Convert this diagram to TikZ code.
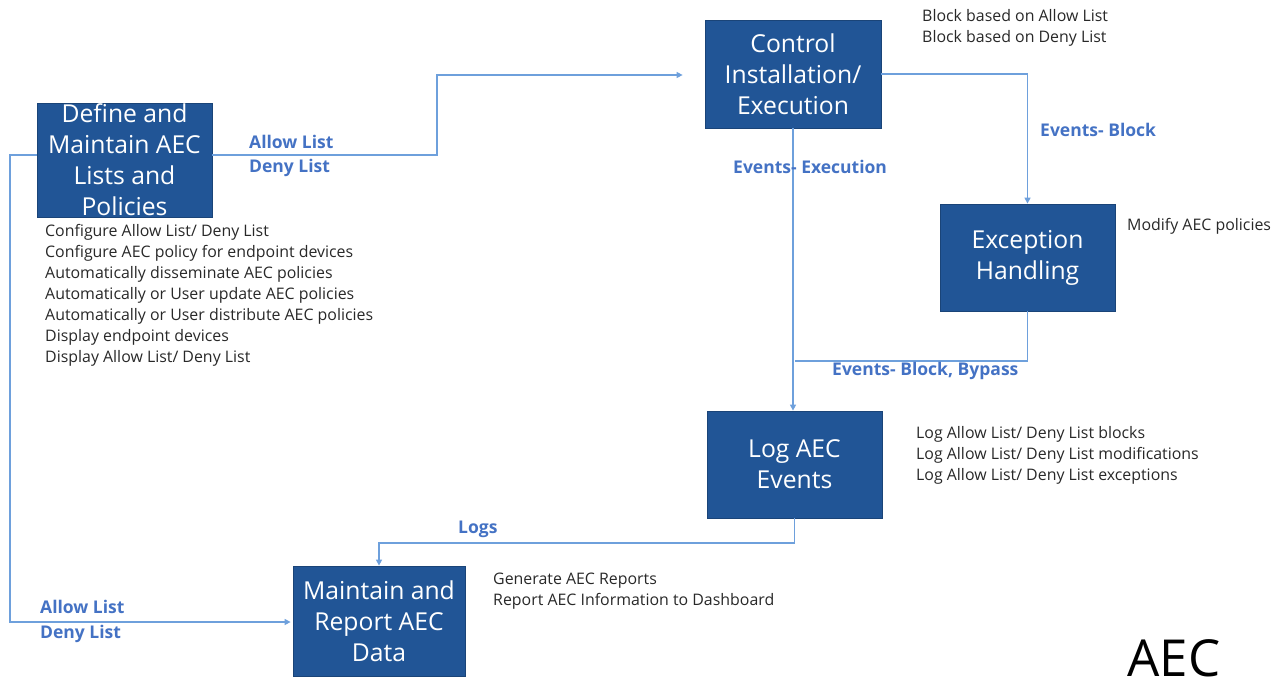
\documentclass[tikz,border=0pt]{standalone}
\usepackage{fontspec}
\setmainfont{Open Sans}
\usetikzlibrary{arrows.meta}
\definecolor{boxblue}{RGB}{33,85,150}
\definecolor{linkblue}{RGB}{110,160,220}
\definecolor{lblblue}{RGB}{68,114,196}
\definecolor{notegray}{RGB}{40,40,40}
\tikzset{
  procbox/.style={draw=boxblue!80!black, line width=0.8pt, fill=boxblue, text=white,
    align=center, inner sep=0pt,
    font=\fontsize{24.7}{31}\selectfont},
  link/.style={draw=linkblue, line width=1.4pt},
  tipped/.style={link, -{Triangle[length=6pt,width=6pt]}},
  flowlbl/.style={text=lblblue, font=\fontsize{17.5}{24.5}\selectfont\bfseries, align=left, inner sep=0pt},
  note/.style={text=notegray, font=\fontsize{15.9}{21}\selectfont, align=left, inner sep=0pt}
}
\begin{document}
\begin{tikzpicture}[x=1pt,y=-1pt]
\useasboundingbox (0,0) rectangle (1281,684);

% process boxes
\node[procbox, minimum width=175pt, minimum height=114pt] (def) at (124.5,160)
  {Define and\\Maintain AEC\\Lists and\\Policies};
\node[procbox, minimum width=176pt, minimum height=108pt] (ctl) at (793,74)
  {Control\\Installation/\\Execution};
\node[procbox, minimum width=175pt, minimum height=107pt] (exc) at (1027.5,257.5)
  {Exception\\Handling};
\node[procbox, minimum width=175pt, minimum height=107pt] (log) at (794.5,464.5)
  {Log AEC\\Events};
\node[procbox, minimum width=172pt, minimum height=110pt] (mnt) at (379,621)
  {Maintain and\\Report AEC\\Data};

% bend points
\coordinate (up) at (437,75);
\coordinate (lft) at (10,622);
\coordinate (join) at (795,361);
\coordinate (lowturn) at (795,543);

% connectors
\draw[tipped, shorten >=22pt] ([yshift=5pt]def.east) -| (up) -- (ctl.west |- up);
\draw[tipped, shorten >=2pt] ([yshift=5pt]def.west) -| (lft) -- (mnt.west |- lft);
\draw[tipped] (ctl.east) -| (exc.north);
\draw[tipped] (ctl.south) -- (ctl.south |- log.north);
\draw[link, line width=2.2pt] (793,267) -- (793,312);
\draw[link] (exc.south) |- (join);
\draw[tipped] (log.south) -- (log.south |- lowturn) -| (mnt.north);

% connector labels
\node[flowlbl, anchor=north west] (lblA) at (249,135) {Allow List\\Deny List};
\node[flowlbl, anchor=north west] (lblB) at (733,160) {Events- Execution};
\node[flowlbl, anchor=north west] (lblC) at (1040,123) {Events- Block};
\node[flowlbl, anchor=north west] (lblD) at (832,362) {Events- Block, Bypass};
\node[flowlbl, anchor=north west] (lblE) at (458,521) {Logs};
\node[flowlbl, anchor=north west] (lblF) at (40,600) {Allow List\\Deny List};

% notes
\node[note, anchor=north west] (ndef) at (45,224)
  {Configure Allow List/ Deny List\\
   Configure AEC policy for endpoint devices\\
   Automatically disseminate AEC policies\\
   Automatically or User update AEC policies\\
   Automatically or User distribute AEC policies\\
   Display endpoint devices\\
   Display Allow List/ Deny List};
\node[note, anchor=north west] (nctl) at (922,9)
  {Block based on Allow List\\Block based on Deny List};
\node[note, anchor=north west] (nexc) at (1127,218) {Modify AEC policies};
\node[note, anchor=north west] (nlog) at (916,426)
  {Log Allow List/ Deny List blocks\\
   Log Allow List/ Deny List modifications\\
   Log Allow List/ Deny List exceptions};
\node[note, anchor=north west] (nmnt) at (493,573)
  {Generate AEC Reports\\Report AEC Information to Dashboard};

% title
\node[text=black, font=\fontsize{51}{60}\selectfont, inner sep=0pt, anchor=base] (ttl) at (1174,676) {AEC};
\end{tikzpicture}
\end{document}
